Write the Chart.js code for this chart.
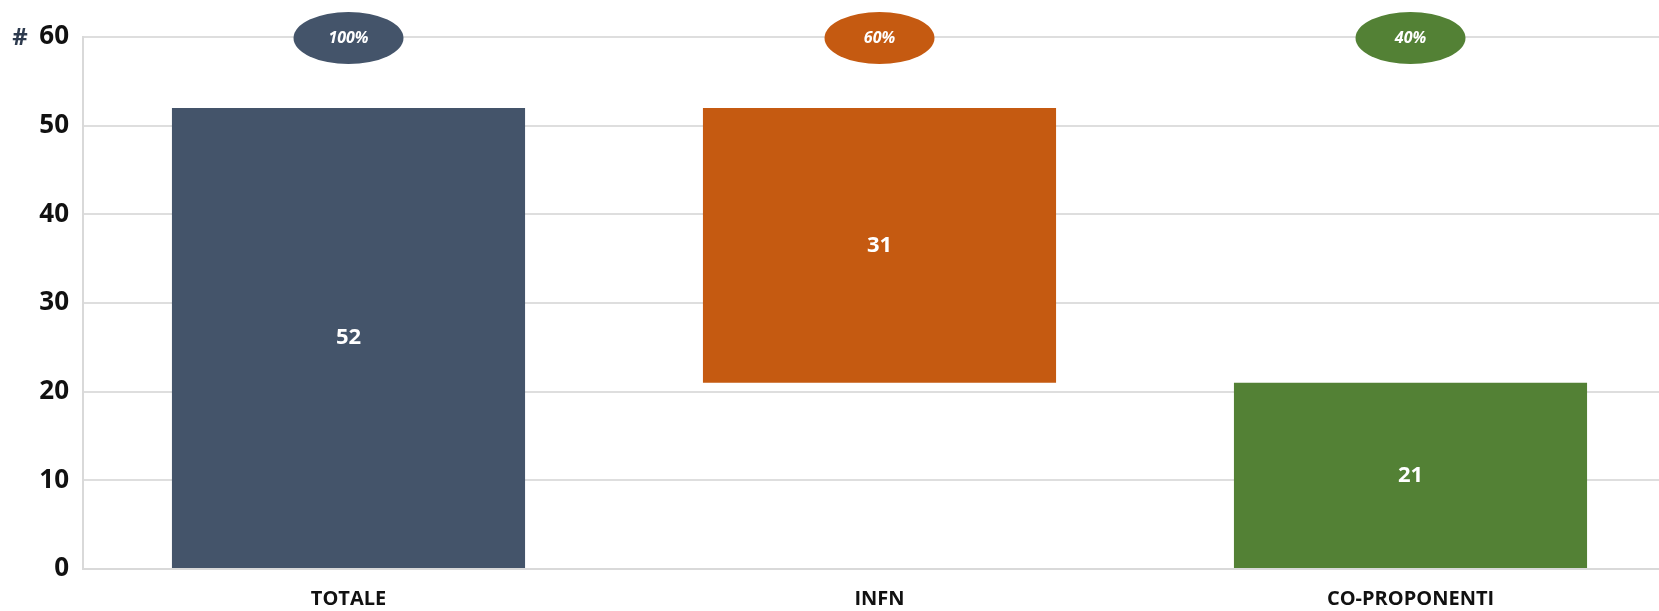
<!DOCTYPE html>
<html>
<head>
<meta charset="utf-8">
<script src="https://cdn.jsdelivr.net/npm/chart.js@4/dist/chart.umd.min.js"></script>
<style>
  html, body { margin: 0; padding: 0; background: #fff; overflow: hidden; }
  #wrap { width: 1676px; height: 611px; }
</style>
</head>
<body>
<div id="wrap"><canvas id="waterfall" width="1676" height="611"></canvas></div>
<script>
const categories = ['TOTALE', 'INFN', 'CO-PROPONENTI'];
const barStart = [0, 21, 0];
const barEnd = [52, 52, 21];
const percentLabels = ['100%', '60%', '40%'];
const barColors = ['#44546a', '#c55a11', '#538135'];
const yTicks = [0, 10, 20, 30, 40, 50, 60];

const FONT = "'Open Sans', sans-serif";

// value labels inside bars + percentage ellipses on top
const overlayPlugin = {
  id: 'overlay',
  afterDatasetsDraw(chart) {
    const ctx = chart.ctx;
    const meta = chart.getDatasetMeta(0);
    const y = chart.scales.y;
    ctx.save();
    meta.data.forEach((bar, i) => {
      const value = barEnd[i] - barStart[i];
      const midY = (bar.y + bar.base) / 2;
      ctx.fillStyle = '#ffffff';
      ctx.font = 'bold 22px ' + FONT;
      ctx.textAlign = 'center';
      ctx.textBaseline = 'middle';
      ctx.fillText(String(value), bar.x, midY);

      // percentage bubble
      const cy = y.getPixelForValue(60) + 1;
      ctx.beginPath();
      ctx.ellipse(bar.x, cy, 55, 26, 0, 0, Math.PI * 2);
      ctx.fillStyle = barColors[i];
      ctx.fill();
      ctx.fillStyle = '#ffffff';
      ctx.font = 'italic bold 16px ' + FONT;
      ctx.fillText(percentLabels[i], bar.x, cy);
    });
    // the "#" unit marker next to the top tick
    ctx.fillStyle = '#2e3b4e';
    ctx.font = 'bold 24px ' + FONT;
    ctx.textAlign = 'center';
    ctx.fillText('#', 20, y.getPixelForValue(60) + 1);
    ctx.restore();
  }
};

new Chart(document.getElementById('waterfall').getContext('2d'), {
  type: 'bar',
  data: {
    labels: categories,
    datasets: [{
      data: barStart.map((s, i) => [s, barEnd[i]]),
      backgroundColor: barColors,
      borderWidth: 0,
      barPercentage: 0.665,
      categoryPercentage: 1
    }]
  },
  options: {
    responsive: false,
    animation: false,
    layout: { padding: { top: 37, right: 0, bottom: 0, left: 0 } },
    plugins: {
      legend: { display: false },
      tooltip: { enabled: false }
    },
    scales: {
      x: {
        afterFit(scale) { scale.height = 42; },
        grid: { display: false, drawTicks: false },
        border: { display: true, color: '#d9d9d9', width: 2 },
        ticks: {
          color: '#111111',
          padding: 18,
          font: { family: FONT, size: 20, weight: 'bold' }
        }
      },
      y: {
        min: 0,
        max: 60,
        afterFit(scale) { scale.width = 83; },
        afterBuildTicks(scale) { scale.ticks = yTicks.map(v => ({ value: v })); },
        grid: { color: '#dedede', lineWidth: 2, drawTicks: false },
        border: { display: true, color: '#d9d9d9', width: 2 },
        ticks: {
          color: '#111111',
          padding: 14,
          font: { family: FONT, size: 26, weight: 'bold' }
        }
      }
    }
  },
  plugins: [overlayPlugin]
});
</script>
</body>
</html>
